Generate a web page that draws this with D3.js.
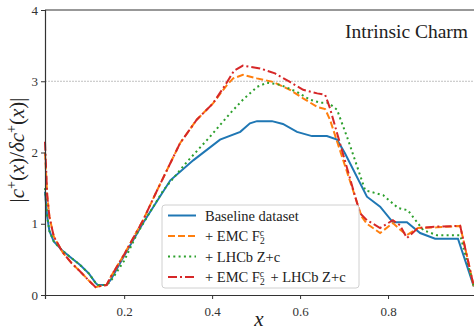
<!DOCTYPE html>
<html>
<head>
<meta charset="utf-8">
<script src="https://cdn.jsdelivr.net/npm/d3@7"></script>
<style>
  body { margin: 0; background: #fff; }
  svg text { font-family: "Liberation Serif", "DejaVu Serif", serif; }
</style>
</head>
<body>
<svg id="chart" width="474" height="333"></svg>
<script>
// values
const xBaseline = [0.02, 0.025, 0.03, 0.04, 0.06, 0.08, 0.10, 0.12, 0.135, 0.14, 0.16, 0.17, 0.2, 0.243, 0.305, 0.357, 0.418, 0.464, 0.486, 0.502, 0.536, 0.561, 0.593, 0.627, 0.661, 0.684, 0.702, 0.752, 0.782, 0.811, 0.843, 0.873, 0.907, 0.959, 0.995];
const yBaseline = [1.45, 1.1, 0.9, 0.75, 0.62, 0.52, 0.42, 0.30, 0.17, 0.14, 0.14, 0.22, 0.55, 1.01, 1.61, 1.89, 2.18, 2.29, 2.41, 2.44, 2.44, 2.40, 2.29, 2.23, 2.23, 2.18, 1.99, 1.38, 1.24, 1.02, 1.02, 0.87, 0.79, 0.79, 0.12];

const xEmc = [0.02, 0.025, 0.03, 0.04, 0.06, 0.08, 0.10, 0.12, 0.135, 0.14, 0.16, 0.17, 0.2, 0.243, 0.275, 0.327, 0.365, 0.402, 0.434, 0.448, 0.47, 0.502, 0.539, 0.577, 0.607, 0.639, 0.657, 0.668, 0.74, 0.752, 0.782, 0.811, 0.827, 0.843, 0.868, 0.911, 0.964, 0.995];
const yEmc = [2.0, 1.4, 1.1, 0.82, 0.6, 0.45, 0.33, 0.2, 0.11, 0.12, 0.14, 0.26, 0.57, 1.05, 1.47, 2.13, 2.46, 2.69, 2.95, 3.04, 3.09, 3.04, 2.99, 2.88, 2.76, 2.64, 2.61, 2.46, 1.1, 1.0, 0.87, 1.01, 0.92, 0.84, 0.94, 0.95, 0.97, 0.12];

const xLhcb = [0.02, 0.025, 0.03, 0.04, 0.06, 0.08, 0.10, 0.12, 0.135, 0.14, 0.16, 0.17, 0.2, 0.23, 0.289, 0.343, 0.395, 0.441, 0.47, 0.502, 0.525, 0.555, 0.593, 0.623, 0.645, 0.664, 0.684, 0.709, 0.748, 0.789, 0.823, 0.845, 0.88, 0.911, 0.964, 0.995];
const yLhcb = [1.5, 1.1, 0.9, 0.75, 0.62, 0.52, 0.42, 0.30, 0.17, 0.14, 0.14, 0.2, 0.48, 0.87, 1.47, 1.87, 2.22, 2.55, 2.74, 2.92, 2.98, 2.95, 2.85, 2.74, 2.70, 2.70, 2.6, 2.18, 1.47, 1.40, 1.22, 1.19, 0.91, 0.84, 0.84, 0.12];

const xBoth = [0.02, 0.025, 0.03, 0.04, 0.06, 0.08, 0.10, 0.12, 0.135, 0.14, 0.16, 0.17, 0.2, 0.243, 0.275, 0.327, 0.365, 0.402, 0.43, 0.45, 0.47, 0.509, 0.543, 0.577, 0.607, 0.639, 0.657, 0.668, 0.736, 0.752, 0.782, 0.811, 0.827, 0.843, 0.868, 0.911, 0.964, 0.995];
const yBoth = [2.15, 1.4, 1.1, 0.82, 0.6, 0.45, 0.33, 0.2, 0.11, 0.12, 0.14, 0.26, 0.57, 1.05, 1.47, 2.13, 2.46, 2.69, 2.95, 3.15, 3.22, 3.18, 3.11, 2.99, 2.88, 2.83, 2.81, 2.62, 1.15, 1.05, 0.94, 1.05, 0.98, 0.8, 0.94, 0.96, 0.97, 0.12];

const xTicks = [0.2, 0.4, 0.6, 0.8];
const yTicks = [0, 1, 2, 3, 4];
const refLevel = 3;

const series = [
  { xs: xBaseline, ys: yBaseline, color: "#1f77b4", dash: null },
  { xs: xEmc, ys: yEmc, color: "#ff7f0e", dash: "7,3" },
  { xs: xLhcb, ys: yLhcb, color: "#2ca02c", dash: "2,3.3" },
  { xs: xBoth, ys: yBoth, color: "#d62728", dash: "9,3,2,3" }
];

const svg = d3.select("#chart");
const plotLeft = 45, plotTop = 10, plotBottom = 295;

const x = d3.scaleLinear().domain([0.02, 1.0]).range([plotLeft, 476]);
const y = d3.scaleLinear().domain([0, 4]).range([plotBottom, plotTop]);

// reference line at 3
svg.append("line")
  .attr("x1", plotLeft).attr("x2", 474)
  .attr("y1", y(refLevel)).attr("y2", y(refLevel))
  .attr("stroke", "#b0b0b0")
  .attr("stroke-width", 0.8)
  .attr("stroke-dasharray", "2,1");

const line = d3.line().x(d => x(d[0])).y(d => y(d[1]));

const g = svg.append("g");
series.forEach(s => {
  const pts = s.xs.map((v, i) => [v, s.ys[i]]);
  g.append("path")
    .datum(pts)
    .attr("fill", "none")
    .attr("stroke", s.color)
    .attr("stroke-width", 2)
    .attr("stroke-dasharray", s.dash)
    .attr("d", line);
});

// axes
const xAxis = d3.axisBottom(x).tickValues(xTicks).tickSize(4).tickFormat(d3.format(".1f"));
const yAxis = d3.axisLeft(y).tickValues(yTicks).tickSize(4).tickFormat(d3.format("d"));

const gx = svg.append("g").attr("transform", `translate(0,${plotBottom})`).call(xAxis);
const gy = svg.append("g").attr("transform", `translate(${plotLeft},0)`).call(yAxis);
[gx, gy].forEach(a => {
  a.select(".domain").attr("stroke", "#333").attr("stroke-width", 1.2);
  a.selectAll(".tick line").attr("stroke", "#333");
  a.selectAll(".tick text").attr("fill", "#333").style("font-size", "13px")
    .style("font-family", "'Liberation Serif', serif");
});
gx.selectAll(".tick text").attr("dy", "1.05em");

// top spine
svg.append("line").attr("x1", plotLeft).attr("x2", 474).attr("y1", plotTop).attr("y2", plotTop)
  .attr("stroke", "#333").attr("stroke-width", 1.2);

// title in the corner
svg.append("text")
  .attr("x", 468).attr("y", 38)
  .attr("text-anchor", "end")
  .style("font-size", "19.5px")
  .attr("fill", "#222")
  .text("Intrinsic Charm");

// axis labels
svg.append("text")
  .attr("x", 259).attr("y", 326)
  .attr("text-anchor", "middle")
  .style("font-style", "italic")
  .style("font-size", "21px")
  .attr("fill", "#222")
  .text("x");

const yl = svg.append("text")
  .attr("transform", "translate(24,150) rotate(-90)")
  .attr("text-anchor", "middle")
  .style("font-size", "21px")
  .attr("fill", "#222");
yl.append("tspan").text("|");
yl.append("tspan").style("font-style", "italic").text("c");
yl.append("tspan").attr("dy", -8).style("font-size", "14px").text("+");
yl.append("tspan").attr("dy", 8).text("(");
yl.append("tspan").style("font-style", "italic").text("x");
yl.append("tspan").text(")/");
yl.append("tspan").style("font-style", "italic").text("δc");
yl.append("tspan").attr("dy", -8).style("font-size", "14px").text("+");
yl.append("tspan").attr("dy", 8).text("(");
yl.append("tspan").style("font-style", "italic").text("x");
yl.append("tspan").text(")|");

// legend
const legendLabels = ["Baseline dataset", "+ EMC F2c", "+ LHCb Z+c", "+ EMC F2c + LHCb Z+c"];
const lg = svg.append("g").attr("transform", "translate(162,205)");
lg.append("rect")
  .attr("width", 197).attr("height", 83).attr("rx", 3)
  .attr("fill", "#fff").attr("fill-opacity", 0.85)
  .attr("stroke", "#d0d0d0").attr("stroke-width", 1);

series.forEach((s, i) => {
  const ry = 10.5 + i * 20.5;
  lg.append("line")
    .attr("x1", 6).attr("x2", 34).attr("y1", ry).attr("y2", ry)
    .attr("stroke", s.color).attr("stroke-width", 2)
    .attr("stroke-dasharray", s.dash);
  const t = lg.append("text")
    .attr("x", 43).attr("y", ry + 5)
    .style("font-size", "14.5px")
    .attr("fill", "#222");
  const parts = legendLabels[i].split("F2c");
  parts.forEach((p, k) => {
    t.append("tspan").text(p);
    if (k < parts.length - 1) {
      t.append("tspan").text("F");
      t.append("tspan").attr("dy", 3).style("font-size", "9.5px").text("2");
      t.append("tspan").attr("dy", -8).attr("dx", -5).style("font-size", "9.5px").text("c");
      t.append("tspan").attr("dy", 5).text("\u2009");
    }
  });
});
</script>
</body>
</html>
